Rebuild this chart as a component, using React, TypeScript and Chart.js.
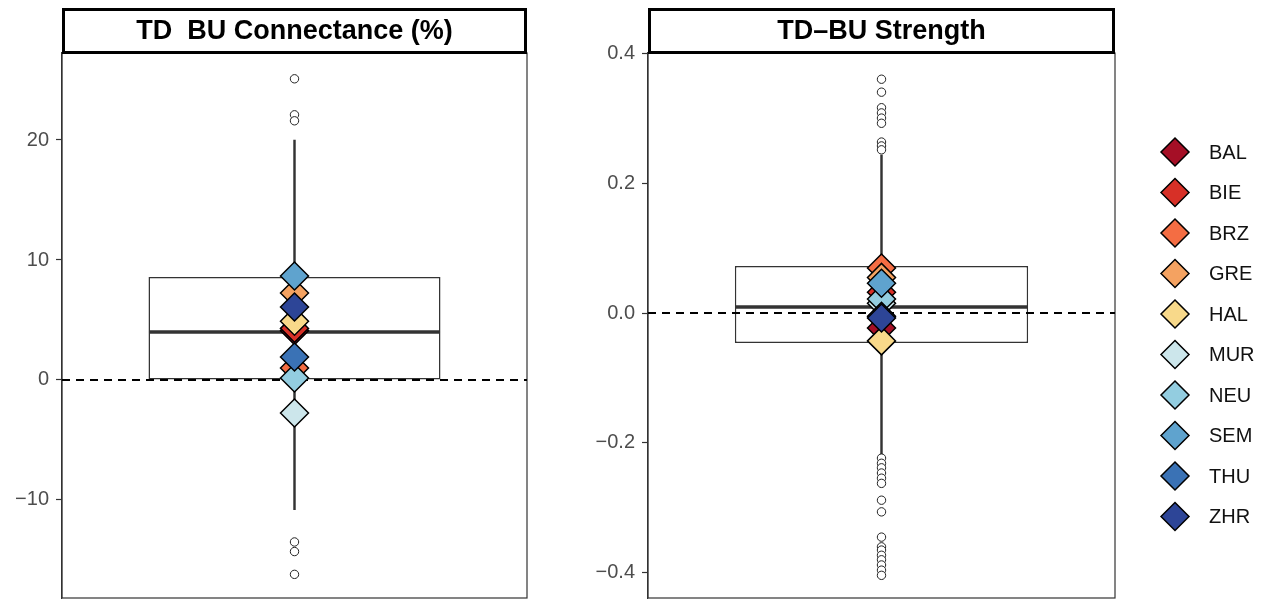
import React, { useEffect, useRef } from 'react';
import { Chart, registerables } from 'chart.js';

Chart.register(...registerables);

// ---------- data ----------
const sites = ['BAL', 'BIE', 'BRZ', 'GRE', 'HAL', 'MUR', 'NEU', 'SEM', 'THU', 'ZHR'];
const siteColors = ['#A50F26', '#D73027', '#F46D43', '#F4A261', '#F8D98A', '#CCE6EB', '#93CDE0', '#5FA3CE', '#3A72B5', '#2D4597'];

const connTitle = 'TD  BU Connectance (%)';
// lower whisker, q1, median, q3, upper whisker
const connBox = [-10.8, 0, 4.0, 8.58, 20.0];
const connOutliers = [25.1, 22.1, 21.6, -13.5, -14.3, -16.2];
const connSites = [4.1, 4.3, 1.0, 7.25, 4.9, -2.75, 0.17, 8.67, 1.92, 6.08];
const connTicks = [-10, 0, 10, 20];
const connRange = [-18.17, 27.25];

const strTitle = 'TD\u2013BU Strength';
const strBox = [-0.219, -0.0463, 0.0093, 0.0726, 0.244];
const strOutliers = [
  0.361, 0.341, 0.317, 0.309, 0.301, 0.293, 0.264, 0.258, 0.252,
  -0.224, -0.232, -0.239, -0.247, -0.255, -0.263, -0.289, -0.307,
  -0.346, -0.361, -0.366, -0.374, -0.381, -0.389, -0.397, -0.405,
];
const strSites = [-0.023, 0.032, 0.0695, 0.055, -0.043, 0.015, 0.0216, 0.046, -0.005, -0.0077];
const strTicks = [-0.4, -0.2, 0, 0.2, 0.4];
const strRange = [-0.44, 0.4015];

const refValue = 0;
const groupLabel = 'all';

// ---------- styles ----------
const FONT = "'Liberation Sans', Arial, Helvetica, sans-serif";
const BOX_FRACTION = 0.628;
const DARK = '#333333';

const framePlugin = {
  id: 'panelFrame',
  beforeDatasetsDraw(chart: any) {
    const { ctx, chartArea } = chart;
    ctx.save();
    ctx.strokeStyle = DARK;
    ctx.lineWidth = 1.2;
    ctx.strokeRect(chartArea.left, chartArea.top, chartArea.right - chartArea.left, chartArea.bottom - chartArea.top);
    ctx.restore();
  },
};

const refLinePlugin = {
  id: 'refLine',
  afterDatasetDraw(chart: any, args: any) {
    const ds = chart.data.datasets[args.index];
    if (ds.role !== 'median') return;
    const { ctx, chartArea } = chart;
    const y = chart.scales.y.getPixelForValue(refValue);
    ctx.save();
    ctx.beginPath();
    ctx.setLineDash([8, 6]);
    ctx.lineWidth = 2;
    ctx.strokeStyle = '#000';
    ctx.moveTo(chartArea.left, y);
    ctx.lineTo(chartArea.right, y);
    ctx.stroke();
    ctx.restore();
  },
};

const stripPlugin = {
  id: 'stripTitle',
  afterDraw(chart: any, _args: any, opts: any) {
    const { ctx, chartArea } = chart;
    const top = 8;
    ctx.save();
    ctx.fillStyle = '#fff';
    ctx.fillRect(chartArea.left, top, chartArea.right - chartArea.left, chartArea.top - top);
    ctx.strokeStyle = '#000';
    ctx.lineWidth = 3;
    ctx.strokeRect(chartArea.left + 1.5, top + 1.5, chartArea.right - chartArea.left - 3, chartArea.top - top - 2);
    ctx.fillStyle = '#000';
    ctx.font = `bold 27px ${FONT}`;
    ctx.textAlign = 'center';
    ctx.textBaseline = 'middle';
    ctx.fillText(opts.text, (chartArea.left + chartArea.right) / 2, (top + chartArea.top) / 2 + 1);
    ctx.restore();
  },
};

const legendPlugin = {
  id: 'siteLegend',
  afterDraw(chart: any, _args: any, opts: any) {
    if (!opts || !opts.show) return;
    const { ctx, chartArea } = chart;
    const cx = chartArea.right + 60;
    const tx = chartArea.right + 94;
    const y0 = 152;
    const step = 40.5;
    const r = 14;
    ctx.save();
    sites.forEach((s, i) => {
      const y = y0 + i * step;
      ctx.beginPath();
      ctx.moveTo(cx, y - r);
      ctx.lineTo(cx + r, y);
      ctx.lineTo(cx, y + r);
      ctx.lineTo(cx - r, y);
      ctx.closePath();
      ctx.fillStyle = siteColors[i];
      ctx.fill();
      ctx.lineWidth = 1.5;
      ctx.strokeStyle = '#000';
      ctx.stroke();
      ctx.fillStyle = '#111';
      ctx.font = `20px ${FONT}`;
      ctx.textAlign = 'left';
      ctx.textBaseline = 'middle';
      ctx.fillText(s, tx, y + 1);
    });
    ctx.restore();
  },
};

function fmt(v: number, decimals: number) {
  return v.toFixed(decimals).replace('-', '\u2212');
}

function makeConfig(p: {
  title: string;
  box: number[];
  outliers: number[];
  siteVals: number[];
  ticks: number[];
  range: number[];
  decimals: number;
  axisWidth: number;
  padRight: number;
  legend: boolean;
}) {
  const [lw, q1, med, q3, uw] = p.box;
  const datasets: any[] = [];
  sites.forEach((s, i) => {
    datasets.push({
      type: 'line',
      label: s,
      data: [{ x: groupLabel, y: p.siteVals[i] }],
      showLine: false,
      pointStyle: 'rectRot',
      pointRadius: 14,
      pointBackgroundColor: siteColors[i],
      pointBorderColor: '#000',
      pointBorderWidth: 1.5,
      order: 20 - i,
    });
  });
  datasets.push({
    type: 'line',
    label: 'outliers',
    data: p.outliers.map((v) => ({ x: groupLabel, y: v })),
    showLine: false,
    pointStyle: 'circle',
    pointRadius: 4.2,
    pointBackgroundColor: '#fff',
    pointBorderColor: '#222',
    pointBorderWidth: 1,
    order: 50,
  });
  datasets.push({
    type: 'line',
    role: 'median',
    label: 'median',
    data: [{ x: groupLabel, y: med }],
    showLine: false,
    pointStyle: 'line',
    pointRadius: (c: any) => {
      const a = c.chart.chartArea;
      return a ? ((a.right - a.left) * BOX_FRACTION) / 2 - 0.5 : 0;
    },
    pointBorderColor: DARK,
    pointBorderWidth: 3.5,
    order: 60,
  });
  datasets.push({
    type: 'bar',
    label: 'box',
    data: [[q1, q3]],
    backgroundColor: '#fff',
    borderColor: DARK,
    borderWidth: 1.5,
    borderSkipped: false,
    grouped: false,
    barPercentage: BOX_FRACTION,
    categoryPercentage: 1,
    order: 70,
  });
  datasets.push({
    type: 'bar',
    label: 'whisker',
    data: [[lw, uw]],
    backgroundColor: DARK,
    borderWidth: 0,
    grouped: false,
    barThickness: 1.8,
    order: 80,
  });

  return {
    type: 'bar',
    data: { labels: [groupLabel], datasets },
    plugins: [framePlugin, refLinePlugin, stripPlugin, legendPlugin],
    options: {
      animation: false,
      responsive: false,
      devicePixelRatio: 1,
      events: [],
      layout: { autoPadding: false, padding: { left: 0, right: p.padRight, top: 53, bottom: 3 } },
      plugins: {
        legend: { display: false },
        title: { display: false },
        tooltip: { enabled: false },
        stripTitle: { text: p.title },
        siteLegend: { show: p.legend },
      },
      scales: {
        x: { type: 'category', display: false, offset: true },
        y: {
          type: 'linear',
          min: p.range[0],
          max: p.range[1],
          afterBuildTicks: (scale: any) => {
            scale.ticks = p.ticks.map((v) => ({ value: v }));
          },
          afterFit: (scale: any) => {
            scale.width = p.axisWidth;
            scale.paddingTop = 0;
            scale.paddingBottom = 0;
          },
          ticks: {
            callback: (v: any) => fmt(Number(v), p.decimals),
            color: '#4D4D4D',
            font: { family: FONT, size: 20 },
            padding: 7,
          },
          grid: {
            drawOnChartArea: false,
            drawTicks: true,
            tickLength: 6,
            tickColor: DARK,
            tickWidth: 1.2,
          },
          border: { display: true, color: DARK, width: 1.2 },
        },
      },
    },
  };
}

export default function App() {
  const leftRef = useRef<HTMLCanvasElement>(null);
  const rightRef = useRef<HTMLCanvasElement>(null);

  useEffect(() => {
    const a = new Chart(
      leftRef.current as HTMLCanvasElement,
      makeConfig({
        title: connTitle,
        box: connBox,
        outliers: connOutliers,
        siteVals: connSites,
        ticks: connTicks,
        range: connRange,
        decimals: 0,
        axisWidth: 62,
        padRight: 8,
        legend: false,
      }) as any
    );
    const b = new Chart(
      rightRef.current as HTMLCanvasElement,
      makeConfig({
        title: strTitle,
        box: strBox,
        outliers: strOutliers,
        siteVals: strSites,
        ticks: strTicks,
        range: strRange,
        decimals: 1,
        axisWidth: 113,
        padRight: 153,
        legend: true,
      }) as any
    );
    return () => {
      a.destroy();
      b.destroy();
    };
  }, []);

  return (
    <div style={{ position: 'absolute', left: 0, top: 0, width: 1268, height: 601, background: '#fff', overflow: 'hidden' }}>
      <canvas ref={leftRef} width={535} height={601} style={{ position: 'absolute', left: 0, top: 0, width: 535, height: 601 }} />
      <canvas ref={rightRef} width={733} height={601} style={{ position: 'absolute', left: 535, top: 0, width: 733, height: 601 }} />
    </div>
  );
}
